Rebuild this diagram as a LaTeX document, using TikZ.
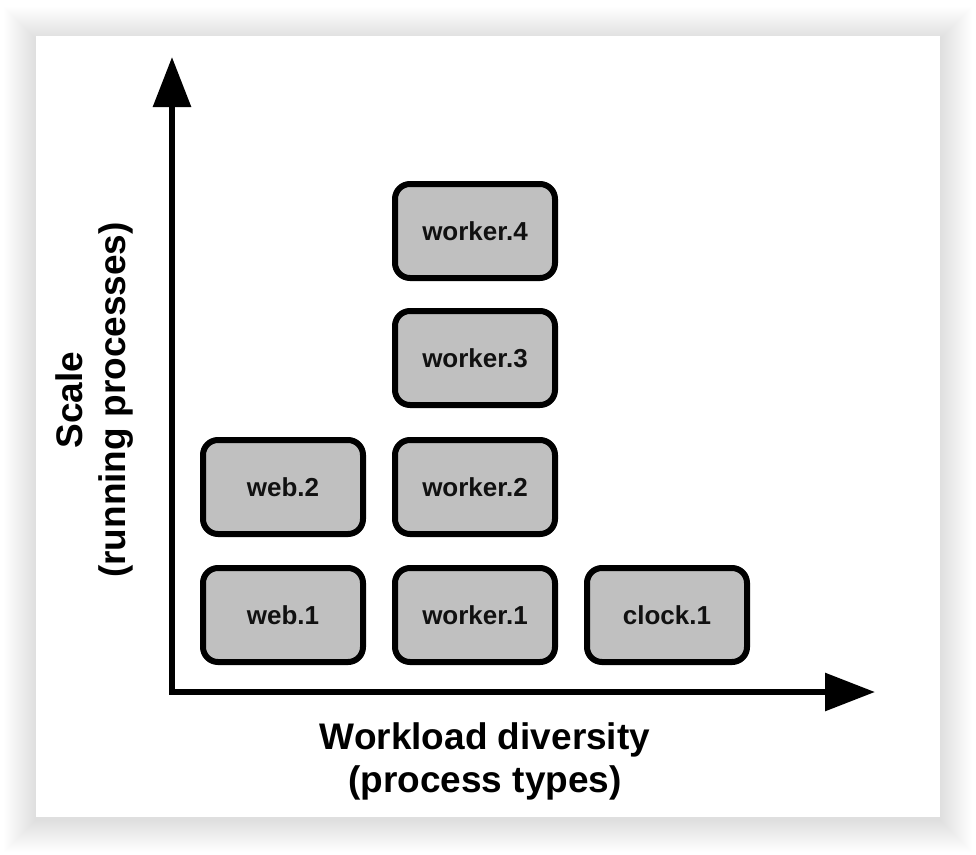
\documentclass[tikz,border=0pt]{standalone}
\usepackage{fontspec}
\setmainfont{Liberation Sans}
\usetikzlibrary{arrows.meta}
\definecolor{boxgray}{HTML}{C0C0C0}
\definecolor{txtdark}{HTML}{111111}
\begin{document}
\begin{tikzpicture}[x=1pt,y=-1pt,
  procbox/.style={draw=black, line width=6pt, fill=boxgray, rounded corners=15pt,
    minimum width=160pt, minimum height=94pt, inner sep=0pt,
    font=\fontsize{26}{31}\selectfont\bfseries, text=txtdark},
  axislabel/.style={font=\fontsize{37}{43}\selectfont\bfseries, align=center, inner sep=0pt}
]
% page and card
\useasboundingbox (0,0) rectangle (976,854);
\fill[white] (0,0) rectangle (976,854);
\foreach \i in {1,...,32}{
  \fill[black, opacity=0.0055] (36-\i,36-\i+3) rectangle (940+\i,817+\i+3);
}
\fill[white] (36,36) rectangle (940,817);

% axes
\coordinate (O) at (172,692);
\coordinate (ytip) at (172,57);
\coordinate (xtip) at (875,692);
\draw[line width=6pt, {Triangle[length=50pt, width=37pt]}-{Triangle[length=50pt, width=37pt]}] (ytip) -- (O) -- (xtip);

% boxes
\node[procbox] (web1) at (283,615) {\raisebox{-2pt}{web.1}};
\node[procbox] (web2) at (283,487) {\raisebox{-2pt}{web.2}};
\node[procbox] (w1) at (475,615) {\raisebox{-2pt}{worker.1}};
\node[procbox] (w2) at (475,487) {\raisebox{-2pt}{worker.2}};
\node[procbox] (w3) at (475,358) {\raisebox{-2pt}{worker.3}};
\node[procbox] (w4) at (475,231) {\raisebox{-2pt}{worker.4}};
\node[procbox] (c1) at (667,615) {\raisebox{-2pt}{clock.1}};

% labels
\node[axislabel, rotate=90] (ylab) at (95,400) {Scale\\(running processes)};
\node[axislabel] (xlab) at (485,761) {Workload diversity\\(process types)};
\end{tikzpicture}
\end{document}
